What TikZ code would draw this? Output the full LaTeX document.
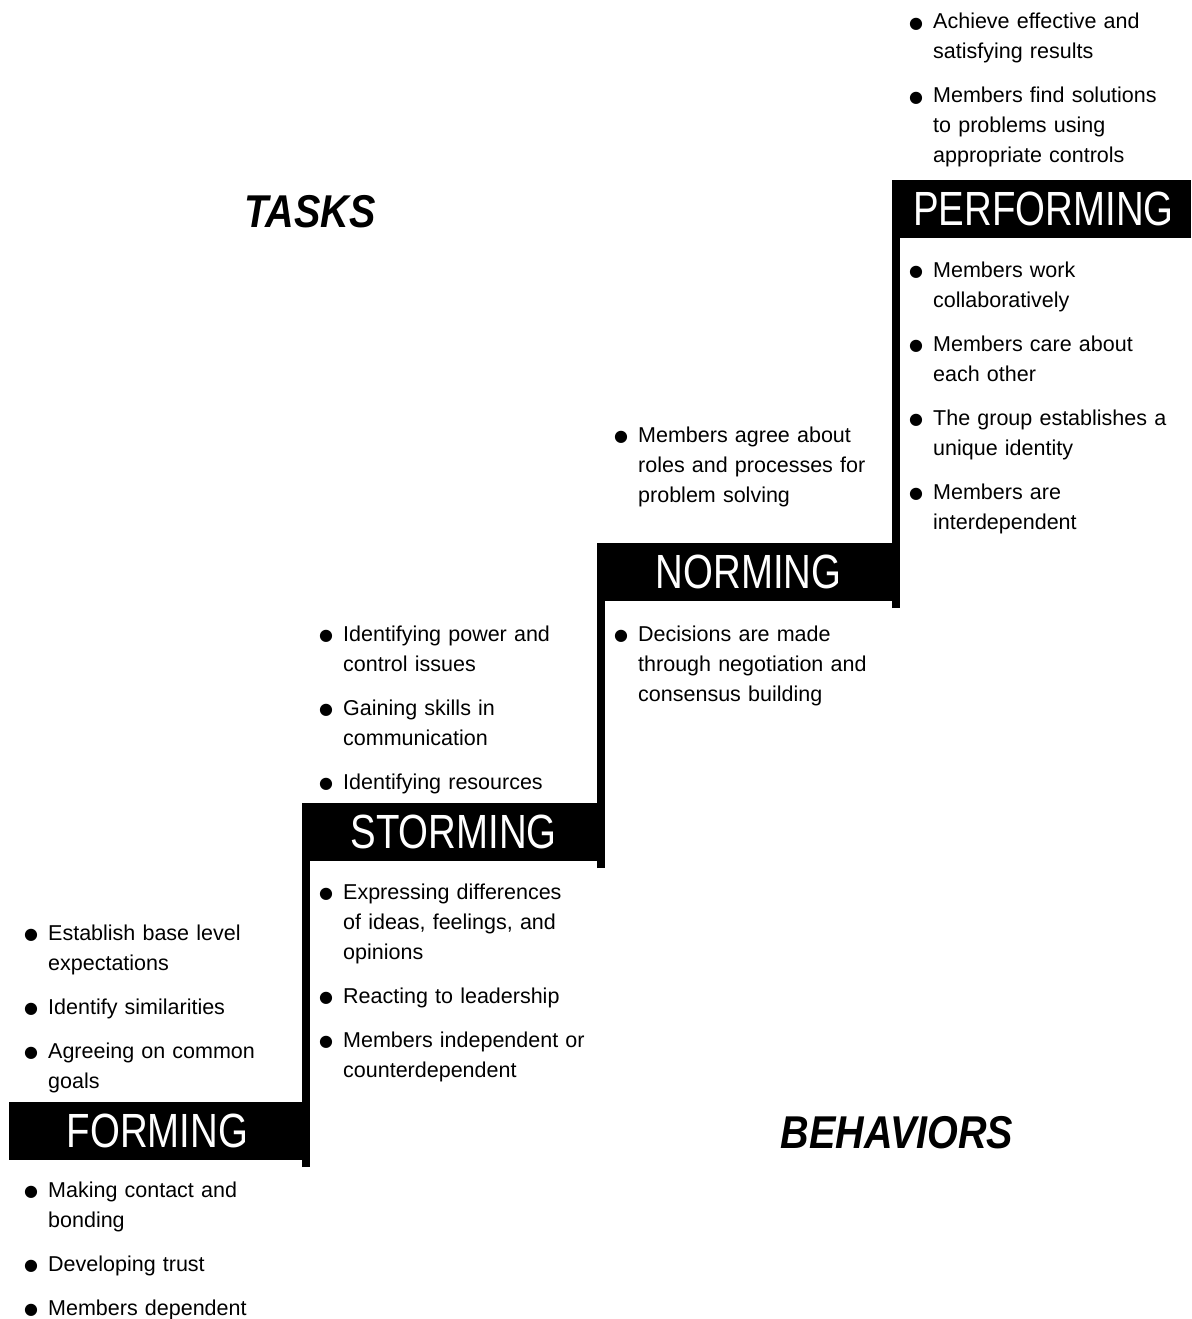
\documentclass[tikz,border=0pt]{standalone}
\usepackage{fontspec}
\setmainfont{Liberation Sans}
\newfontfamily\stagefont[FakeStretch=0.8]{Liberation Sans}
\newfontfamily\sidefont[FakeStretch=0.86]{Liberation Sans}
\newfontfamily\dotfont{DejaVu Sans}
\newcommand{\bul}{\makebox[24pt][l]{\dotfont\fontsize{16}{16}\selectfont\raisebox{0.5pt}{●}}}
\newcommand{\firstitem}{\hangindent=24pt\hangafter=1\noindent\bul}
\newcommand{\stepitem}{\par\firstitem}
\begin{document}
\begin{tikzpicture}[x=1pt,y=-1pt,
  stage/.style={fill=black, text=white, inner sep=0pt, outer sep=0pt, minimum height=58pt, minimum width=295pt, anchor=north west, font=\stagefont\fontsize{48}{48}\selectfont},
  riser/.style={line width=8pt},
  items/.style={anchor=base west, inner sep=0pt, text width=280pt, align=left, font=\fontsize{21.5}{30}\selectfont, execute at begin node={\setlength{\parskip}{14pt}}},
  side/.style={font=\sidefont\bfseries\itshape\fontsize{46}{46}\selectfont}]
\useasboundingbox (0,0) rectangle (1191,1319);
\node[stage, minimum width=297pt] (forming) at (9,1102) {FORMING};
\node[stage] (storming) at (306,803) {STORMING};
\node[stage] (norming) at (601,543) {NORMING};
\node[stage] (performing) at (896,180) {PERFORMING};
\path[draw,riser,shorten <=-7pt] (forming.south east) -- (storming.north west);
\path[draw,riser,shorten <=-7pt] (storming.south east) -- (norming.north west);
\path[draw,riser,shorten <=-7pt] (norming.south east) -- (performing.north west);
\node[items] (forming-up) at (24,940) {\firstitem Establish base level\newline expectations \stepitem Identify similarities \stepitem Agreeing on common\newline goals\par};
\node[items] (forming-down) at (24,1197) {\firstitem Making contact and\newline bonding \stepitem Developing trust \stepitem Members dependent\par};
\node[items] (storming-up) at (319,641) {\firstitem Identifying power and\newline control issues \stepitem Gaining skills in\newline communication \stepitem Identifying resources\par};
\node[items] (storming-down) at (319,899) {\firstitem Expressing differences\newline of ideas, feelings, and\newline opinions \stepitem Reacting to leadership \stepitem Members independent or\newline counterdependent\par};
\node[items] (norming-up) at (614,442) {\firstitem Members agree about\newline roles and processes for\newline problem solving\par};
\node[items] (norming-down) at (614,641) {\firstitem Decisions are made\newline through negotiation and\newline consensus building\par};
\node[items] (performing-up) at (909,29) {\firstitem Achieve effective and\newline satisfying results \stepitem Members find solutions\newline to problems using\newline appropriate controls\par};
\node[items] (performing-down) at (909,277) {\firstitem Members work\newline collaboratively \stepitem Members care about\newline each other \stepitem The group establishes a\newline unique identity \stepitem Members are\newline interdependent\par};
\node[side] (tasks) at (310,212) {TASKS};
\node[side] (behaviors) at (897,1133) {BEHAVIORS};
\end{tikzpicture}
\end{document}
